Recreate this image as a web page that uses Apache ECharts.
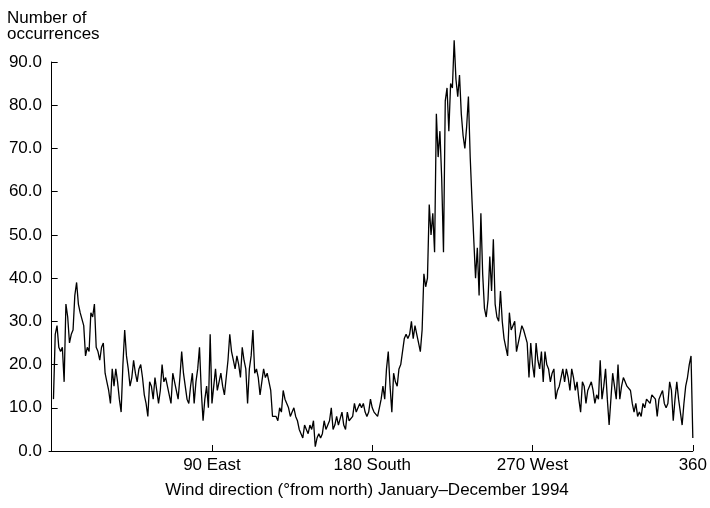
<!DOCTYPE html>
<html><head><meta charset="utf-8">
<script src="https://cdn.jsdelivr.net/npm/echarts@6/dist/echarts.min.js"></script>
<style>html,body{margin:0;padding:0;background:#fff}#c{width:710px;height:508px}</style>
</head><body><div id="c"></div>
<script>
// Wind direction bins, 1..360 degrees (one bin per degree)
const firstDirection = 1;
// Number of occurrences per degree bin
const counts = [
  12, 27, 29, 24, 23, 24, 16, 34, 31, 25,
  27, 28, 36, 39, 34, 32, 32, 29, 22, 24,
  23, 32, 31, 34, 24, 23, 21, 24, 25, 18,
  16, 14, 11, 19, 15, 19, 16, 12, 9, 20,
  28, 22, 19, 15, 17, 21, 18, 16, 19, 20,
  17, 13, 11, 8, 16, 15, 12, 17, 14, 11,
  14, 20, 16, 17, 17, 13, 11, 18, 16, 16,
  12, 17, 23, 18, 15, 12, 11, 15, 18, 11,
  16, 19, 24, 14, 7, 12, 15, 10, 27, 11,
  15, 19, 14, 16, 18, 15, 13, 17, 21, 27,
  23, 21, 19, 22, 20, 17, 24, 21, 19, 11,
  19, 22, 28, 18, 19, 17, 13, 16, 19, 17,
  18, 18, 14, 8, 8, 8, 7, 10, 9, 14,
  12, 12, 10, 8, 9, 10, 8, 7, 5, 5,
  3, 6, 5, 4, 6, 5, 7, 1, 3, 4,
  3, 4, 7, 5, 5, 7, 10, 5, 6, 8,
  6, 6, 9, 6, 5, 9, 7, 7, 8, 11,
  9, 10, 11, 10, 11, 9, 8, 9, 12, 10,
  9, 9, 8, 10, 12, 15, 12, 19, 23, 15,
  9, 18, 16, 15, 19, 20, 23, 26, 27, 26,
  27, 30, 26, 29, 27, 25, 23, 28, 41, 38,
  40, 57, 50, 55, 46, 78, 68, 74, 63, 46,
  81, 84, 74, 85, 84, 95, 86, 82, 87, 78,
  73, 70, 75, 82, 68, 58, 49, 40, 47, 36,
  55, 41, 33, 31, 35, 45, 37, 49, 34, 31,
  30, 37, 30, 26, 24, 22, 32, 28, 29, 30,
  23, 25, 27, 29, 28, 28, 25, 17, 25, 20,
  17, 25, 21, 19, 23, 16, 23, 20, 19, 16,
  18, 19, 12, 14, 15, 17, 19, 16, 19, 17,
  14, 19, 17, 14, 16, 12, 9, 16, 15, 11,
  14, 15, 16, 14, 11, 13, 12, 21, 12, 15,
  19, 12, 6, 12, 18, 15, 12, 20, 12, 15,
  17, 16, 15, 15, 14, 11, 9, 11, 8, 9,
  8, 11, 10, 12, 12, 11, 13, 13, 12, 8,
  12, 13, 14, 11, 10, 11, 16, 14, 7, 12,
  16, 12, 9, 6, 11, 15, 17, 20, 22, 3
];
const xTickValues = [90, 180, 270, 360];
const xTickLabels = ['90 East', '180 South', '270 West', '360'];
const yTitleLines = ['Number of', 'occurrences'];
const xTitle = 'Wind direction (\u00B0from north) January\u2013December 1994';

const FONT = '"Liberation Sans", Arial, Helvetica, sans-serif';
const points = counts.map((v, i) => [firstDirection + i, v]);

const chart = echarts.init(document.getElementById('c'), null, {renderer: 'canvas'});
chart.setOption({
  animation: false,
  backgroundColor: '#fff',
  grid: {left: 49, right: 14, top: 62, bottom: 57, containLabel: false},
  xAxis: {
    type: 'value', min: -1.5, max: 360,
    axisLine: {show: true, lineStyle: {color: '#000', width: 1}},
    axisTick: {show: true, inside: true, length: 6, customValues: xTickValues, lineStyle: {color: '#000', width: 1}},
    axisLabel: {
      customValues: xTickValues,
      formatter: v => { const k = xTickValues.indexOf(v); return k >= 0 ? xTickLabels[k] : ''; },
      color: '#000', fontSize: 17, fontFamily: FONT, margin: 6
    },
    splitLine: {show: false}
  },
  yAxis: {
    type: 'value', min: 0, max: 90, interval: 10,
    axisLine: {show: true, lineStyle: {color: '#000', width: 1}},
    axisTick: {show: true, inside: true, length: 6, lineStyle: {color: '#000', width: 1}},
    axisLabel: {formatter: v => v.toFixed(1), color: '#000', fontSize: 17, fontFamily: FONT, margin: 7},
    splitLine: {show: false}
  },
  series: [{
    type: 'line', data: points, showSymbol: false, symbol: 'none', clip: false,
    lineStyle: {color: '#000', width: 1.3}
  }],
  graphic: [
    {type: 'text', left: 7, top: 10, style: {text: yTitleLines.join('\n'), fill: '#000', font: '17px ' + FONT, lineHeight: 16}},
    {type: 'text', x: 367, y: 482, style: {text: xTitle, fill: '#000', font: '17px ' + FONT, textAlign: 'center', textVerticalAlign: 'top'}}
  ]
});
</script>
</body></html>
